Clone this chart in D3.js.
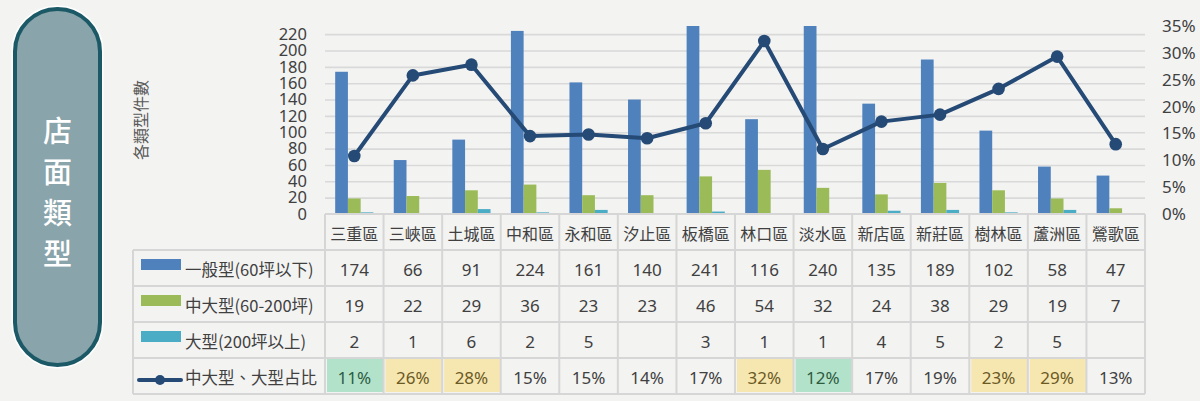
<!DOCTYPE html>
<html>
<head>
<meta charset="utf-8">
<script src="https://cdn.jsdelivr.net/npm/d3@7"></script>
<style>
  body { margin: 0; background: #f3f3f2; }
  svg { display: block; font-family: "Noto Sans CJK TC", "Noto Sans", sans-serif; }
</style>
</head>
<body>
<script>
const districts = ['三重區', '三峽區', '土城區', '中和區', '永和區', '汐止區', '板橋區', '林口區', '淡水區', '新店區', '新莊區', '樹林區', '蘆洲區', '鶯歌區']
const small = [174, 66, 91, 224, 161, 140, 241, 116, 240, 135, 189, 102, 58, 47]
const medium = [19, 22, 29, 36, 23, 23, 46, 54, 32, 24, 38, 29, 19, 7]
const large = [2, 1, 6, 2, 5, null, 3, 1, 1, 4, 5, 2, 5, null]
const ratio = [0.108, 0.258, 0.278, 0.145, 0.148, 0.141, 0.169, 0.322, 0.121, 0.172, 0.185, 0.233, 0.293, 0.130]
const ratioLabels = ['11%', '26%', '28%', '15%', '15%', '14%', '17%', '32%', '12%', '17%', '19%', '23%', '29%', '13%']
const countTicks = [0, 20, 40, 60, 80, 100, 120, 140, 160, 180, 200, 220]
const pctTicks = [0, 0.05, 0.1, 0.15, 0.2, 0.25, 0.3, 0.35]
const seriesNames = ['一般型(60坪以下)', '中大型(60-200坪)', '大型(200坪以上)', '中大型、大型占比']

const colors = ['#4f81bd', '#9bbb59', '#4bacc6']
const lineColor = '#254a75'
const textColor = '#404040'
const gridColor = '#d9d9d9'

const W = 1200, H = 401
const plot = {left: 325, right: 1145, top: 26, bottom: 214}
const tableLeft = 133, rowH = 36, headerBottom = 250

const svg = d3.select('body').append('svg').attr('width', W).attr('height', H)

// left pill
svg.append('rect')
   .attr('x', 15).attr('y', 9).attr('width', 85).attr('height', 356)
   .attr('rx', 42.5).attr('ry', 42.5)
   .attr('fill', 'none').attr('stroke', '#fff').attr('stroke-width', 7)
svg.append('rect')
   .attr('x', 15).attr('y', 9).attr('width', 85).attr('height', 356)
   .attr('rx', 42.5).attr('ry', 42.5)
   .attr('fill', '#8aa4ab').attr('stroke', '#1c5967').attr('stroke-width', 4)
'店面類型'.split('').forEach((c, i) => {
  svg.append('text')
     .attr('x', 57.5).attr('y', 129 + i * 41)
     .attr('text-anchor', 'middle').attr('dominant-baseline', 'central')
     .attr('fill', '#fff').attr('font-size', 29).attr('font-weight', 500)
     .text(c)
})

// scales
let x = d3.scaleBand().domain(districts).range([plot.left, plot.right])
let xs = d3.scaleBand().domain([0, 1, 2]).range([0, x.bandwidth()]).paddingOuter(0.8)
let y = d3.scaleLinear().domain([0, 230]).range([plot.bottom, plot.top])
let y2 = d3.scaleLinear().domain([0, 0.35]).range([plot.bottom, plot.top])

// gridlines
svg.append('g')
   .attr('transform', `translate(${plot.left},0)`)
   .call(d3.axisLeft(y).tickValues(countTicks.slice(1)).tickSize(-(plot.right - plot.left)).tickFormat(''))
   .call(g => g.select('.domain').remove())
   .call(g => g.selectAll('line').attr('stroke', gridColor).attr('stroke-width', 1.6))

// left axis labels
svg.append('g')
   .attr('transform', `translate(${plot.left - 18},0)`)
   .call(d3.axisLeft(y).tickValues(countTicks).tickSize(0).tickPadding(0))
   .call(g => g.select('.domain').remove())
   .call(g => g.selectAll('text').attr('fill', textColor).attr('font-size', 16.5).attr('font-family', '"Noto Sans", sans-serif'))

// right axis labels
svg.append('g')
   .attr('transform', `translate(${plot.right + 17},0)`)
   .call(d3.axisRight(y2).tickValues(pctTicks).tickSize(0).tickPadding(0).tickFormat(d3.format('.0%')))
   .call(g => g.select('.domain').remove())
   .call(g => g.selectAll('text').attr('fill', textColor).attr('font-size', 17).attr('font-family', '"Noto Sans", sans-serif'))

// y axis title
svg.append('text')
   .attr('transform', 'translate(140,120) rotate(-90)')
   .attr('text-anchor', 'middle').attr('dominant-baseline', 'central')
   .attr('fill', '#595959').attr('font-size', 16)
   .text('各類型件數')

// bars, clipped to plot area
svg.append('clipPath').attr('id', 'clip')
   .append('rect').attr('x', plot.left).attr('y', plot.top)
   .attr('width', plot.right - plot.left).attr('height', plot.bottom - plot.top)

const series = [small, medium, large]
const bars = svg.append('g').attr('clip-path', 'url(#clip)')
series.forEach((s, si) => {
  bars.selectAll('.bar' + si)
      .data(s.map((v, i) => ({d: districts[i], v: v || 0})))
      .enter()
      .append('rect')
      .attr('x', d => x(d.d) + xs(si))
      .attr('y', d => y(d.v))
      .attr('width', xs.bandwidth())
      .attr('height', d => y(0) - y(d.v))
      .attr('fill', colors[si])
})

// ratio line
const line = d3.line().x((d, i) => x(districts[i]) + x.bandwidth() / 2).y(d => y2(d))
svg.append('path').datum(ratio)
   .attr('d', line).attr('fill', 'none')
   .attr('stroke', lineColor).attr('stroke-width', 4).attr('stroke-linejoin', 'round')
svg.selectAll('.dot').data(ratio).enter().append('circle')
   .attr('cx', (d, i) => x(districts[i]) + x.bandwidth() / 2)
   .attr('cy', d => y2(d)).attr('r', 6.3).attr('fill', lineColor)

// data table
const tbl = svg.append('g')
const rowTop = r => headerBottom + r * rowH

// highlight cells in ratio row
ratio.forEach((v, i) => {
  let fill = null
  if (v < 0.125) fill = '#b3e2cb'
  else if (v > 0.2) fill = '#f6e6b0'
  if (fill) {
    tbl.append('rect')
       .attr('x', x(districts[i]) + 2).attr('y', rowTop(3) + 1)
       .attr('width', x.bandwidth() - 2).attr('height', rowH - 3)
       .attr('fill', fill)
  }
})

// grid lines of table
const tblStroke = '#d6d6d6'
tbl.append('line').attr('x1', plot.left).attr('x2', plot.right).attr('y1', plot.bottom).attr('y2', plot.bottom)
   .attr('stroke', tblStroke).attr('stroke-width', 2)
d3.range(5).forEach(r => {
  tbl.append('line').attr('x1', tableLeft).attr('x2', plot.right)
     .attr('y1', rowTop(r)).attr('y2', rowTop(r))
     .attr('stroke', tblStroke).attr('stroke-width', 2)
})
tbl.append('line').attr('x1', tableLeft).attr('x2', tableLeft)
   .attr('y1', rowTop(0)).attr('y2', rowTop(4)).attr('stroke', tblStroke).attr('stroke-width', 2)
districts.forEach((d, i) => {
  tbl.append('line').attr('x1', x(d)).attr('x2', x(d))
     .attr('y1', plot.bottom).attr('y2', rowTop(4)).attr('stroke', tblStroke).attr('stroke-width', 2)
})
tbl.append('line').attr('x1', plot.right).attr('x2', plot.right)
   .attr('y1', plot.bottom).attr('y2', rowTop(4)).attr('stroke', tblStroke).attr('stroke-width', 2)

// category header
tbl.selectAll('.cat').data(districts).enter().append('text')
   .attr('x', d => x(d) + x.bandwidth() / 2).attr('y', (plot.bottom + headerBottom) / 2 + 1)
   .attr('text-anchor', 'middle').attr('dominant-baseline', 'central')
   .attr('fill', textColor).attr('font-size', 16)
   .text(d => d)

// value rows
const rows = [small, medium, large, ratioLabels]
rows.forEach((row, r) => {
  tbl.selectAll('.val' + r).data(row).enter().append('text')
     .attr('x', (d, i) => x(districts[i]) + x.bandwidth() / 2)
     .attr('y', rowTop(r) + rowH / 2 + 1)
     .attr('text-anchor', 'middle').attr('dominant-baseline', 'central')
     .attr('font-size', 17).attr('font-family', '"Noto Sans", sans-serif')
     .attr('fill', (d, i) => {
       if (r < 3) return textColor
       if (ratio[i] < 0.125) return '#2d5c3f'
       if (ratio[i] > 0.2) return '#6b5a24'
       return textColor
     })
     .text(d => d == null ? '' : d)
})

// legend column
seriesNames.forEach((name, r) => {
  const cy = rowTop(r) + rowH / 2
  if (r < 3) {
    tbl.append('rect').attr('x', 141).attr('y', cy - 9).attr('width', 40).attr('height', 11)
       .attr('fill', colors[r])
  } else {
    tbl.append('line').attr('x1', 139).attr('x2', 181).attr('y1', cy + 4).attr('y2', cy + 4)
       .attr('stroke', lineColor).attr('stroke-width', 4).attr('stroke-linecap', 'round')
    tbl.append('circle').attr('cx', 160).attr('cy', cy + 4).attr('r', 5).attr('fill', lineColor)
  }
  tbl.append('text')
     .attr('x', 185).attr('y', cy + 1)
     .attr('dominant-baseline', 'central')
     .attr('fill', textColor).attr('font-size', 16.5)
     .text(name)
})
</script>
</body>
</html>
